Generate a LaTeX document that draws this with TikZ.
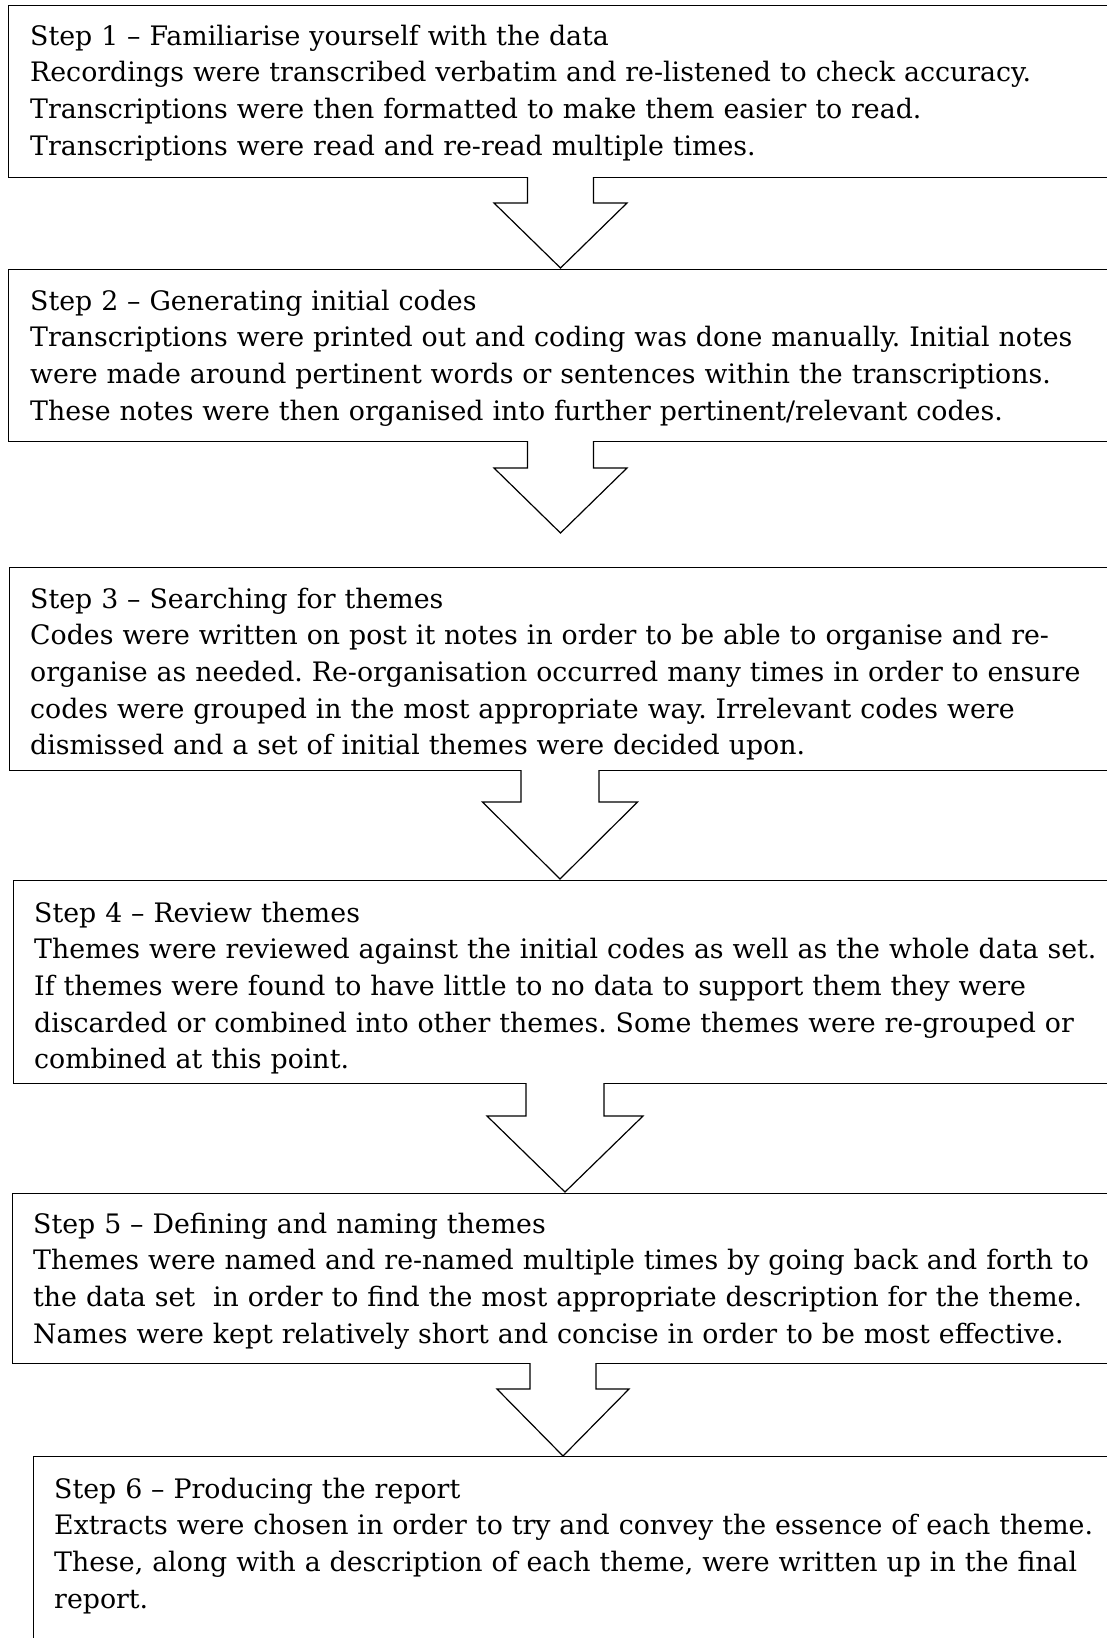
\documentclass[tikz,border=0pt]{standalone}
\usepackage{fontspec}
\setmainfont{DejaVu Serif}
\usetikzlibrary{calc}
\frenchspacing

\tikzstyle{stepbox}=[rectangle,
                     draw=black,
                     line width=1.2pt,
                     anchor=north west,
                     inner sep=0pt,
                     minimum width=1110pt,
                    ]
\tikzstyle{steptext}=[anchor=base west,
                      align=left,
                      inner sep=0pt,
                      text width=1300pt,
                      font=\fontsize{26.8}{36.7}\selectfont,
                     ]
\tikzstyle{blockarrow}=[draw=black, line width=1.2pt, fill=white]

% #1 box above, #2 tip, #3 half shaft, #4 half head, #5 head length
\newcommand{\steparrow}[5]{%
  \draw[blockarrow] ($(#1.south -| #2)+(-#3,-1)$) |- ($(#2)+(-#4,-#5)$) -- (#2)
      -- ($(#2)+(#4,-#5)$) -| ($(#1.south -| #2)+(#3,-1)$);}
% #1 box, #2 first baseline, #3 name, #4 text
\newcommand{\steptext}[4]{%
  \begin{scope}
    \clip (#1.north west) rectangle ($(#1.south east)+(0,-11)$);
    \node at (#2) (#3) [steptext] {#4};
  \end{scope}}

\begin{document}
\begin{tikzpicture}[x=1pt, y=-1pt]
    \useasboundingbox (0,0) rectangle (1106,1638);

    % Boxes
    % --------------------------------------------------------------------------
    \node at ( 7.5,    5) (box1) [stepbox, minimum height=172pt] {};
    \node at ( 7.5,  269) (box2) [stepbox, minimum height=172pt] {};
    \node at ( 8.5,  567) (box3) [stepbox, minimum height=203pt] {};
    \node at (12.7,  880) (box4) [stepbox, minimum height=203pt] {};
    \node at (11.5, 1193) (box5) [stepbox, minimum height=170pt] {};
    \node at (33.0, 1456) (box6) [stepbox, minimum height=220pt] {};

    % Texts
    % --------------------------------------------------------------------------
    \steptext{box1}{30,45}{step1}{Step 1 -- Familiarise yourself with the data\\
        Recordings were transcribed verbatim and re-listened to check accuracy.\\
        Transcriptions were then formatted to make them easier to read.\\
        Transcriptions were read and re-read multiple times.}
    \steptext{box2}{30,310}{step2}{Step 2 -- Generating initial codes\\
        Transcriptions were printed out and coding was done manually. Initial notes\\
        were made around pertinent words or sentences within the transcriptions.\\
        These notes were then organised into further pertinent/relevant codes.}
    \steptext{box3}{30,608}{step3}{Step 3 -- Searching for themes\\
        Codes were written on post it notes in order to be able to organise and re-\\
        organise as needed. Re-organisation occurred many times in order to ensure\\
        codes were grouped in the most appropriate way. Irrelevant codes were\\
        dismissed and a set of initial themes were decided upon.}
    \steptext{box4}{34,922}{step4}{Step 4 -- Review themes\\
        Themes were reviewed against the initial codes as well as the whole data set.\\
        If themes were found to have little to no data to support them they were\\
        discarded or combined into other themes. Some themes were re-grouped or\\
        combined at this point.}
    \steptext{box5}{33,1233}{step5}{Step 5 -- Defining and naming themes\\
        Themes were named and re-named multiple times by going back and forth to\\
        the data set\ \ in order to find the most appropriate description for the theme.\\
        Names were kept relatively short and concise in order to be most effective.}
    \steptext{box6}{54,1498}{step6}{Step 6 -- Producing the report\\
        Extracts were chosen in order to try and convey the essence of each theme.\\
        These, along with a description of each theme, were written up in the final\\
        report.}

    % Arrows
    % --------------------------------------------------------------------------
    \coordinate (tip1) at (560.5,  268);
    \coordinate (tip2) at (560.5,  533);
    \coordinate (tip3) at (560.0,  879);
    \coordinate (tip4) at (565.0, 1192);
    \coordinate (tip5) at (563.0, 1456);

    \steparrow{box1}{tip1}{33}{66.5}{65}
    \steparrow{box2}{tip2}{33}{66.5}{65}
    \steparrow{box3}{tip3}{39}{77.5}{77}
    \steparrow{box4}{tip4}{39}{78}{76}
    \steparrow{box5}{tip5}{33}{66}{67}
\end{tikzpicture}
\end{document}
